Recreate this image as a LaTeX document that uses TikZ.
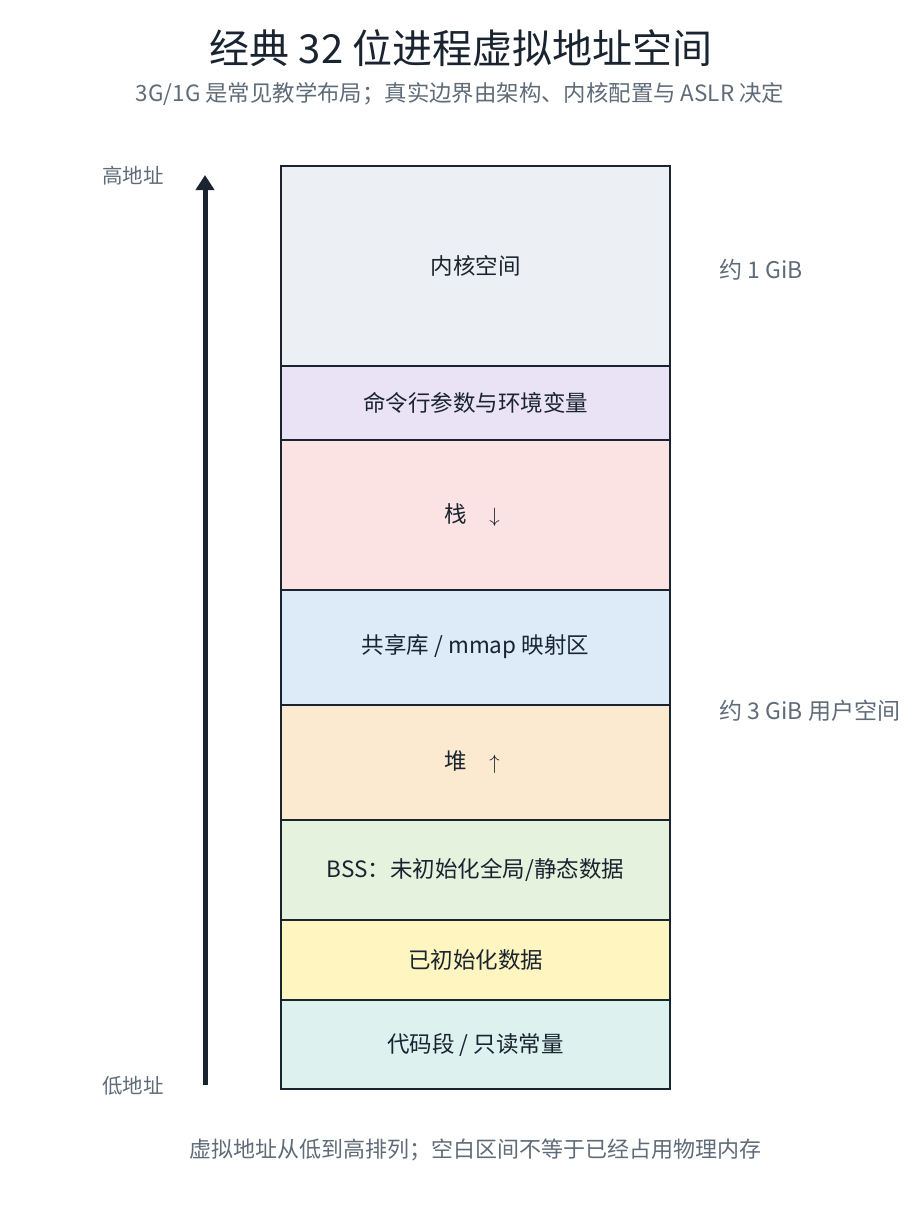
\documentclass[tikz,border=0pt]{standalone}
\usepackage{fontspec}
\setmainfont{Noto Sans CJK SC}
\usetikzlibrary{arrows.meta}
\definecolor{ink}{HTML}{1A2430}
\definecolor{muted}{HTML}{5F6B78}
\definecolor{ckernel}{HTML}{ECF0F4}
\definecolor{cargs}{HTML}{EAE2F5}
\definecolor{cstack}{HTML}{FAE3E2}
\definecolor{cshlib}{HTML}{DDEAF8}
\definecolor{cheap}{HTML}{FBEACF}
\definecolor{cbss}{HTML}{E5F2DE}
\definecolor{cdata}{HTML}{FFF5C0}
\definecolor{ctext}{HTML}{DDF2EF}
\tikzset{
  seg/.style={draw=ink, line width=2pt},
  seglabel/.style={text=ink, font=\fontsize{22.5}{26}\selectfont},
  sidelabel/.style={text=muted, font=\fontsize{23}{27}\selectfont, anchor=west},
  addrlabel/.style={text=muted, font=\fontsize{20.5}{24}\selectfont},
}
\begin{document}
\begin{tikzpicture}[x=1pt,y=-1pt]
\useasboundingbox (0,0) rectangle (920,1220);
% title
\node[text=ink, font=\fontsize{40}{46}\selectfont] (title) at (461,48) {经典 32 位进程虚拟地址空间};
\node[text=muted, font=\fontsize{22.4}{26}\selectfont] (subtitle) at (460,94) {3G/1G 是常见教学布局；真实边界由架构、内核配置与 ASLR 决定};
% segments
\def\L{281}\def\R{670}
\filldraw[seg, fill=ckernel] (\L,166) rectangle (\R,366);
\filldraw[seg, fill=cargs] (\L,366) rectangle (\R,440);
\filldraw[seg, fill=cstack] (\L,440) rectangle (\R,590);
\filldraw[seg, fill=cshlib] (\L,590) rectangle (\R,705);
\filldraw[seg, fill=cheap] (\L,705) rectangle (\R,820);
\filldraw[seg, fill=cbss] (\L,820) rectangle (\R,920);
\filldraw[seg, fill=cdata] (\L,920) rectangle (\R,1000);
\filldraw[seg, fill=ctext] (\L,1000) rectangle (\R,1089);
\node[seglabel] (kernel) at (475.5,266) {内核空间};
\node[seglabel] (args) at (475.5,403) {命令行参数与环境变量};
\node[seglabel] (stack) at (472,515) {栈\quad$\downarrow$};
\node[seglabel] (shlib) at (475.5,647) {共享库 / mmap 映射区};
\node[seglabel] (heap) at (472,762) {堆\quad$\uparrow$};
\node[seglabel] (bss) at (475.5,870) {BSS：未初始化全局/静态数据};
\node[seglabel] (data) at (475.5,960) {已初始化数据};
\node[seglabel] (text) at (475.5,1045) {代码段 / 只读常量};
% side labels
\node[sidelabel] (onegib) at (716,270) {约 1 GiB};
\node[sidelabel] (threegib) at (716,711) {约 3 GiB 用户空间};
% address arrow
\node[addrlabel] (high) at (133,176) {高地址};
\node[addrlabel] (low) at (133,1086) {低地址};
\coordinate (abot) at (205,1085);
\coordinate (atop) at (205,175);
\draw[ink, line width=5pt, -{Triangle[length=15pt,width=18pt]}] (abot) -- (atop);
% footer
\node[text=muted, font=\fontsize{22}{26}\selectfont] (footer) at (475,1150) {虚拟地址从低到高排列；空白区间不等于已经占用物理内存};
\end{tikzpicture}
\end{document}
